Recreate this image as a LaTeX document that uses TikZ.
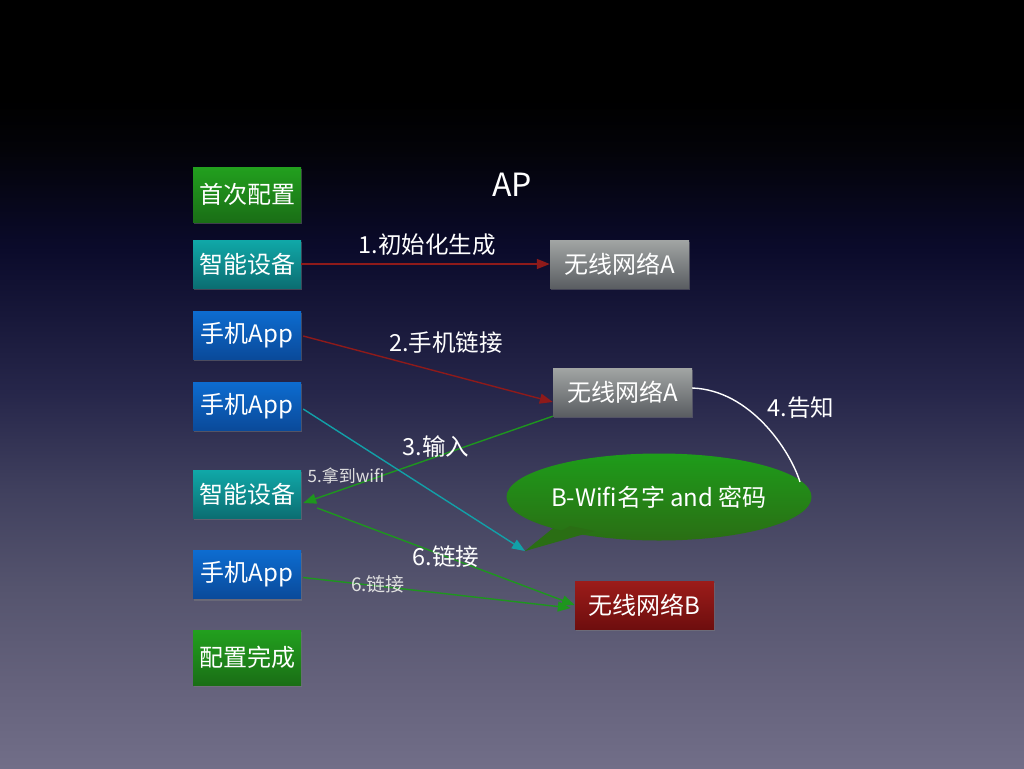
\documentclass[tikz,border=0pt]{standalone}
\usepackage{fontspec}
\setmainfont{Noto Sans CJK SC}
\usetikzlibrary{arrows.meta,calc,shapes.geometric,shadows}
\definecolor{bg0}{HTML}{716E88}
\definecolor{bg1}{HTML}{65627C}
\definecolor{bg2}{HTML}{55546E}
\definecolor{bg3}{HTML}{40405E}
\definecolor{bg4}{HTML}{26264A}
\definecolor{bg5}{HTML}{0A0A2A}
\definecolor{bg6}{HTML}{030308}
\definecolor{gtop}{HTML}{22A01E}\definecolor{gbot}{HTML}{1A6E16}
\definecolor{ttop}{HTML}{10A8A8}\definecolor{tbot}{HTML}{0B6E72}
\definecolor{btop}{HTML}{0D6CD0}\definecolor{bbot}{HTML}{0A4A9A}
\definecolor{stop}{HTML}{A2A5A4}\definecolor{sbot}{HTML}{5A5E62}
\definecolor{rtop}{HTML}{9C1C1A}\definecolor{rbot}{HTML}{6E0E0E}
\definecolor{etop}{HTML}{1E9C1A}\definecolor{ebot}{HTML}{2A6E14}
\definecolor{redline}{HTML}{8E1A1A}
\definecolor{greenline}{HTML}{1E961E}
\definecolor{cyanline}{HTML}{12A0A8}
\pgfdeclareverticalshading{bgshade}{100bp}{color(0bp)=(bg0); color(25bp)=(bg0); color(30.35bp)=(bg1); color(36.7bp)=(bg2); color(43.1bp)=(bg3); color(49.5bp)=(bg4); color(59bp)=(bg5); color(65.25bp)=(bg6); color(68.5bp)=(black); color(100bp)=(black)}
\tikzset{
  box/.style={rectangle, minimum width=108pt, minimum height=48pt, inner sep=0pt, text=white, font=\fontsize{24}{26}\selectfont, drop shadow={opacity=0.45, shadow xshift=1pt, shadow yshift=-2pt}},
  gbox/.style={box, top color=gtop, bottom color=gbot, minimum height=55pt},
  tbox/.style={box, top color=ttop, bottom color=tbot},
  bbox/.style={box, top color=btop, bottom color=bbot},
  netbox/.style={box, minimum width=139pt, top color=stop, bottom color=sbot},
  redbox/.style={box, minimum width=139pt, top color=rtop, bottom color=rbot},
  lbl/.style={text=white, inner sep=0pt, font=\fontsize{23.5}{25}\selectfont},
  slbl/.style={text=white!88!black, inner sep=0pt, font=\fontsize{17}{19}\selectfont},
  arr/.style={line width=1.4pt, -{Triangle[length=13pt,width=10pt]}},
}
\begin{document}
\begin{tikzpicture}[x=1pt,y=-1pt]
\useasboundingbox (0,0) rectangle (1024,768);
\shade[shading=bgshade] (0,0) rectangle (1024,768);

% left column
\node[gbox] (c1) at (247,194.5) {首次配置};
\node[tbox] (d1) at (247,264) {智能设备};
\node[bbox] (p1) at (247,335) {手机App};
\node[bbox] (p2) at (247,406) {手机App};
\node[tbox] (d2) at (247,494) {智能设备};
\node[bbox] (p3) at (247,574.5) {手机App};
\node[gbox] (c2) at (247,657.5) {配置完成};

% right side
\node[lbl, font=\fontsize{32}{34}\selectfont] (ap) at (512,185) {AP};
\node[netbox] (a1) at (619.5,264) {无线网络A};
\node[netbox] (a2) at (622.5,392) {无线网络A};
\node[redbox] (nb) at (644.5,605) {无线网络B};

% speech bubble
\coordinate (tip) at (525,551);
\fill[ebot] (563,520) -- (tip) -- (598,524) -- cycle;
\node[ellipse, minimum width=292pt, minimum height=87pt, inner sep=0pt, top color=etop, bottom color=ebot, text=white, font=\fontsize{24}{26}\selectfont] (bub) at (659,497) {B-Wifi名字 and 密码};
\fill[ebot] (570,526) -- (tip) -- (595,531) -- cycle;

% connectors
\draw[arr, redline] (d1.east) -- (a1.west);
\draw[arr, redline] ($(p1.east)+(2,1)$) -- ($(a2.west)+(0,10)$);
\draw[arr, greenline] (a2.south west) -- ($(d2.east)+(2,9)$);
\draw[arr, cyanline] ($(p2.east)+(2,3)$) -- (tip);
\draw[arr, greenline] ($(d2.east)+(16,14)$) -- (nb.west);
\draw[arr, greenline] ($(p3.east)+(2,3)$) -- ($(nb.west)+(-4,3)$);
\draw[white, line width=1.4pt] ($(a2.east)+(0,-4)$) .. controls (750,390) and (790,450) .. (800,482);

% labels
\node[lbl] (l1) at (427,245) {1.初始化生成};
\node[lbl] (l2) at (446,343) {2.手机链接};
\node[lbl] (l3) at (436,447) {3.输入};
\node[lbl] (l4) at (801,408) {4.告知};
\node[slbl] (l5) at (346,476) {5.拿到wifi};
\node[lbl] (l6) at (446,557) {6.链接};
\node[slbl, font=\fontsize{19}{21}\selectfont] (l7) at (378,584) {6.链接};
\end{tikzpicture}
\end{document}
